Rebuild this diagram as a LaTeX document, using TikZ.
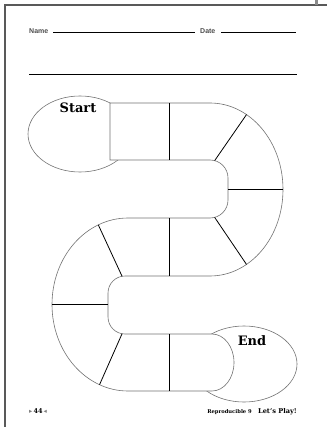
\documentclass[tikz,border=0pt]{standalone}
\usepackage{fontspec}
\setmainfont{DejaVu Serif}
\newfontfamily\labelsans{Liberation Sans}
\newfontfamily\slab{DejaVu Serif}
\newfontfamily\symfont{DejaVu Sans}
\usetikzlibrary{calc}
\definecolor{trackgray}{gray}{0.45}
\definecolor{framegray}{gray}{0.35}
\definecolor{labelgray}{gray}{0.3}
\tikzset{
  outline/.style={draw=trackgray, line width=0.6pt, fill=white},
  divider/.style={draw=black, line width=0.8pt},
  writeline/.style={draw=black, line width=0.9pt},
  frameline/.style={draw=framegray, line width=1.3pt},
  labeltext/.style={inner sep=0pt, font=\labelsans\bfseries\fontsize{7}{7}\selectfont, text=labelgray},
  bigtext/.style={inner sep=0pt, font=\slab\bfseries\fontsize{13}{13}\selectfont},
}
\begin{document}
\begin{tikzpicture}[x=1pt,y=1pt,yscale=-1]
\useasboundingbox (0,0) rectangle (327,427);
% page frame
\draw[frameline] (5,427) -- (5,5) -- (327,5);
\fill[framegray!70] (315,0) rectangle (318,5);
% header
\node[labeltext, anchor=base west] (name) at (29,33.5) {Name};
\node[labeltext, anchor=base west] (date) at (200,33.5) {Date};
\coordinate (n1) at (53,32.5); \coordinate (n2) at (195,32.5);
\coordinate (d1) at (221,32.5); \coordinate (d2) at (296,32.5);
\coordinate (r1) at (29,74); \coordinate (r2) at (297,74);
\draw[writeline] (n1) -- (n2);
\draw[writeline] (d1) -- (d2);
\draw[writeline] (r1) -- (r2);
% start / end ellipses
\draw[outline] (80,134) ellipse[x radius=52, y radius=38];
\draw[outline] (244,364) ellipse[x radius=53, y radius=38];
% track
\draw[outline]
  (110,103) -- (210,103)
  arc[start angle=-90, end angle=90, x radius=73, y radius=86.5]
  -- (125,276)
  arc[start angle=-90, end angle=-180, radius=17]
  -- (108,317)
  arc[start angle=180, end angle=90, radius=17]
  -- (212,334)
  arc[start angle=-90, end angle=90, x radius=22, y radius=28.5]
  -- (128,391)
  arc[start angle=90, end angle=270, x radius=76, y radius=86.5]
  -- (210,218)
  arc[start angle=90, end angle=0, radius=18]
  -- (228,178)
  arc[start angle=0, end angle=-90, radius=18]
  -- (110,160) -- cycle;
% divider end points
\coordinate (RC) at (210,189.5);
\coordinate (LC) at (128,304.5);
\coordinate (a1) at (169,103); \coordinate (a2) at (169,160);
\coordinate (b1) at ($(210,178)+(-75:18)$); \coordinate (b2) at ($(RC)+(-60:73 and 86.5)$);
\coordinate (c1) at (228,189.5); \coordinate (c2) at (283,189.5);
\coordinate (e1) at ($(210,200)+(75:18)$); \coordinate (e2) at ($(RC)+(60:73 and 86.5)$);
\coordinate (f1) at (169,218); \coordinate (f2) at (169,276);
\coordinate (g1) at ($(125,293)+(-100:17)$); \coordinate (g2) at ($(LC)+(-113:76 and 86.5)$);
\coordinate (h1) at (108,304.5); \coordinate (h2) at (52,304.5);
\coordinate (k1) at ($(125,317)+(100:17)$); \coordinate (k2) at ($(LC)+(112:76 and 86.5)$);
\coordinate (m1) at (169,334); \coordinate (m2) at (169,391);
\foreach \p in {a,b,c,e,f,g,h,k,m} \draw[divider] (\p1) -- (\p2);
% labels
\node[bigtext, anchor=base] (start) at (78,113) {Start};
\node[bigtext, anchor=base] (end) at (252,345) {End};
% footer
\node[inner sep=0pt, anchor=base west, font=\fontsize{6.5}{6.5}\selectfont] (page) at (29,413)
  {{\symfont\color{gray}▸}\,{\slab\bfseries 44}\,{\symfont\color{gray}◂}};
\node[inner sep=0pt, anchor=base east, font=\slab\bfseries\fontsize{6.6}{7}\selectfont] (play) at (297,413) {Let’s Play!};
\node[inner sep=0pt, anchor=base east, font=\slab\bfseries\fontsize{5.2}{6}\selectfont] (repro) at ([xshift=-6]play.base west) {Reproducible 9};
\end{tikzpicture}
\end{document}
